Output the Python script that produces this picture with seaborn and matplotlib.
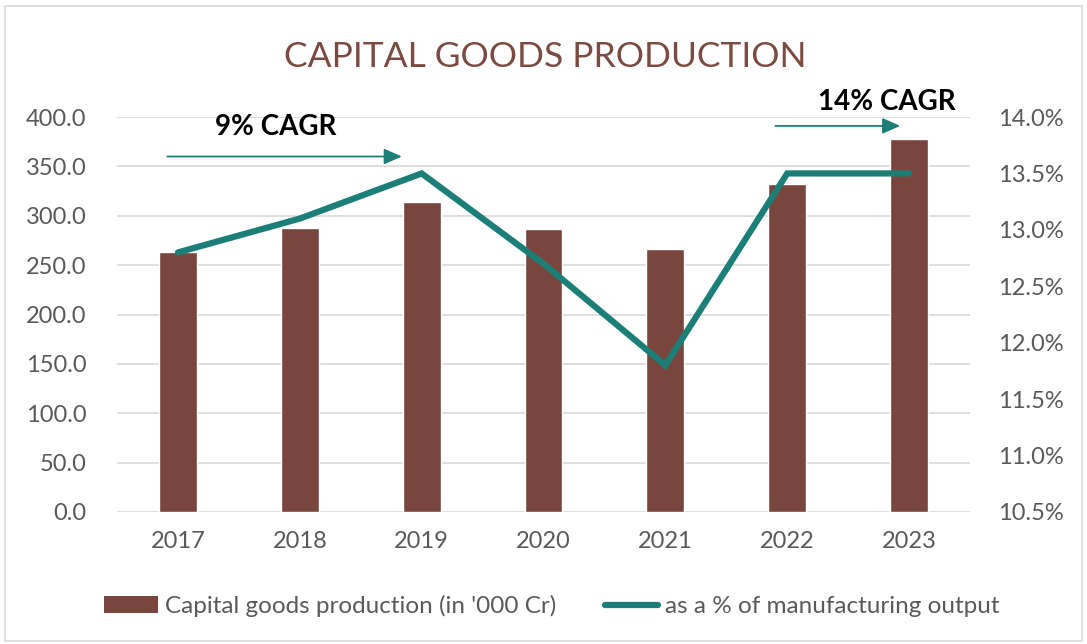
import matplotlib
matplotlib.use("Agg")
import matplotlib.pyplot as plt
import seaborn as sns
import numpy as np
import pandas as pd
from matplotlib.patches import Rectangle
from matplotlib.lines import Line2D
from matplotlib.ticker import FuncFormatter, MultipleLocator

years = ["2017", "2018", "2019", "2020", "2021", "2022", "2023"]
production = [263, 288, 314, 287, 266, 332, 378]
share_pct = [12.8, 13.1, 13.5, 12.7, 11.8, 13.5, 13.5]

bar_label = "Capital goods production (in '000 Cr)"
line_label = "as a % of manufacturing output"
title = "CAPITAL GOODS PRODUCTION"

BAR_C = "#79463D"
LINE_C = "#1B7F78"
GRAY = "#595959"
GRID = "#D9D9D9"

sns.set_theme(style="white")
plt.rcParams["font.family"] = ["Lato", "DejaVu Sans"]

fig = plt.figure(figsize=(10.87, 6.44), dpi=100)
fig.patches.append(Rectangle((0.005, 0.005), 0.99, 0.985, transform=fig.transFigure,
                             fill=False, edgecolor="#D9D9D9", linewidth=1.2))
ax = fig.add_axes([117/1087, 1 - 512/644, (970-117)/1087, (512-117)/644])

df = pd.DataFrame({"year": years, "prod": production, "pct": share_pct})
df["pos"] = np.arange(len(years))

sns.barplot(data=df, x="year", y="prod", color=BAR_C, saturation=1, width=0.31, ax=ax, zorder=2)
ax.set_ylim(0, 400)
ax.set_xlim(-0.5, len(years) - 0.5)
ax.yaxis.set_major_locator(MultipleLocator(50))
ax.yaxis.set_major_formatter(FuncFormatter(lambda v, p: f"{v:.1f}"))
ax.grid(axis="y", color=GRID, linewidth=1.2, zorder=0)
ax.set_axisbelow(True)
for s in ax.spines.values():
    s.set_visible(False)
ax.set_xlabel("")
ax.set_ylabel("")
ax.tick_params(axis="both", length=0, labelsize=17, labelcolor=GRAY)
ax.tick_params(axis="y", pad=22)
ax.tick_params(axis="x", pad=14)

ax2 = ax.twinx()
sns.lineplot(data=df, x="pos", y="pct", color=LINE_C, linewidth=4.5, ax=ax2,
             solid_capstyle="round", solid_joinstyle="miter", zorder=3)
ax2.set_ylim(10.5, 14.0)
ax2.set_xlim(-0.5, len(years) - 0.5)
ax2.yaxis.set_major_locator(MultipleLocator(0.5))
ax2.yaxis.set_major_formatter(FuncFormatter(lambda v, p: f"{v:.1f}%"))
for s in ax2.spines.values():
    s.set_visible(False)
ax2.set_xlabel("")
ax2.set_ylabel("")
ax2.tick_params(axis="y", length=0, labelsize=17, labelcolor=GRAY, pad=20)
ax2.grid(False)

# CAGR arrows
ax.annotate("", xy=(1.86, 360), xytext=(-0.11, 360),
            arrowprops=dict(arrowstyle="-|>,head_length=0.9,head_width=0.4", color=LINE_C, lw=1.3),
            zorder=4)
ax.text(0.80, 390, "9% CAGR", ha="center", va="center", fontsize=20, fontweight="bold", color="black")
ax.annotate("", xy=(5.95, 391), xytext=(4.88, 391),
            arrowprops=dict(arrowstyle="-|>,head_length=0.9,head_width=0.4", color=LINE_C, lw=1.3),
            zorder=4, annotation_clip=False)
ax.text(5.82, 415, "14% CAGR", ha="center", va="center", fontsize=20, fontweight="bold",
        color="black", clip_on=False)

fig.text(545/1087, 1 - 57/644, title, ha="center", va="center", fontsize=25.5, color="#7B4A40")

handles = [Rectangle((0, 0), 1, 1, facecolor=BAR_C, edgecolor="none"),
           Line2D([0], [0], color=LINE_C, linewidth=4.5, solid_capstyle="round")]
leg = fig.legend(handles, [bar_label, line_label], loc="center", bbox_to_anchor=(552/1087, 1 - 606/644),
                 ncol=2, frameon=False, fontsize=17.5, labelcolor=GRAY, handlelength=2.2,
                 handletextpad=0.3, columnspacing=2.0)

fig.savefig("out.png", dpi=100)
